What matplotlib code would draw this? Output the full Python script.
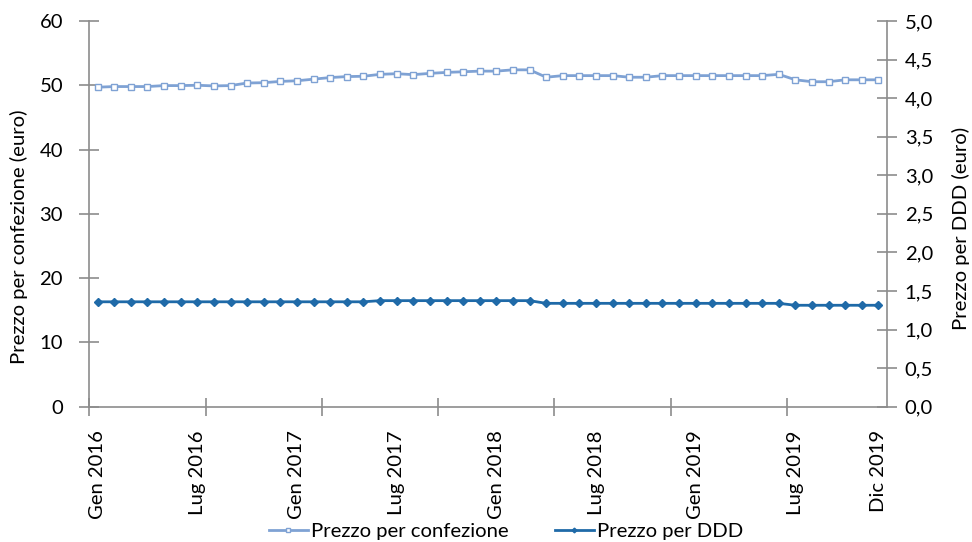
import matplotlib
matplotlib.use("Agg")
import matplotlib.pyplot as plt
from matplotlib.ticker import FixedLocator, NullFormatter

plt.rcParams['font.family'] = ['Lato', 'DejaVu Sans']

# Dati ================================================================
mesi = ['Gen', 'Feb', 'Mar', 'Apr', 'Mag', 'Giu', 'Lug', 'Ago', 'Set', 'Ott', 'Nov', 'Dic']
anni = [2016, 2017, 2018, 2019]
categorie = [f'{m} {a}' for a in anni for m in mesi]

prezzo_confezione = [49.7, 49.8, 49.8, 49.8, 49.95, 49.95, 50.0, 49.9, 49.95, 50.35, 50.4, 50.6,
                     50.7, 50.95, 51.2, 51.35, 51.4, 51.7, 51.8, 51.65, 51.85, 52.0, 52.1, 52.2,
                     52.2, 52.4, 52.4, 51.25, 51.5, 51.5, 51.5, 51.5, 51.25, 51.25, 51.5, 51.5,
                     51.5, 51.5, 51.5, 51.5, 51.5, 51.7, 50.85, 50.55, 50.55, 50.85, 50.85, 50.85]

prezzo_ddd = [1.36, 1.36, 1.36, 1.36, 1.36, 1.36, 1.36, 1.36, 1.36, 1.36, 1.36, 1.36,
              1.36, 1.36, 1.36, 1.36, 1.36, 1.375, 1.375, 1.375, 1.375, 1.375, 1.375, 1.375,
              1.375, 1.375, 1.375, 1.34, 1.34, 1.34, 1.34, 1.34, 1.34, 1.34, 1.34, 1.34,
              1.34, 1.34, 1.34, 1.34, 1.34, 1.34, 1.315, 1.315, 1.315, 1.315, 1.315, 1.315]

etichette_x = ['Gen 2016', 'Lug 2016', 'Gen 2017', 'Lug 2017', 'Gen 2018',
               'Lug 2018', 'Gen 2019', 'Lug 2019', 'Dic 2019']

col_conf = '#7fa2d4'
col_ddd = '#1f6aa8'
col_asse = '#8c8c8c'
fs = 14.6

# Layout ==============================================================
fig = plt.figure(figsize=(9.72, 5.42), dpi=100)
ax = fig.add_axes([0.0919, 0.2496, 0.8204, 0.7117])
ax2 = ax.twinx()

x = list(range(len(categorie)))
l1, = ax.plot(x, prezzo_confezione, color=col_conf, lw=2.0, marker='s', ms=4.5,
              mfc='white', mec=col_conf, mew=1.0, label='Prezzo per confezione')
l2, = ax2.plot(x, prezzo_ddd, color=col_ddd, lw=2.0, marker='D', ms=4.0,
               mfc=col_ddd, mec=col_ddd, label='Prezzo per DDD')

ax.set_xlim(-0.5, len(categorie) - 0.5)
ax.set_ylim(0, 60)
ax2.set_ylim(0, 5)
ax.set_yticks(range(0, 61, 10))
ax2.set_yticks([i * 0.5 for i in range(11)])
ax2.set_yticklabels([f'{i * 0.5:.1f}'.replace('.', ',') for i in range(11)])

# tick marks every 7 categories, labels every 6 (plus the last)
ax.xaxis.set_major_locator(FixedLocator([k - 0.5 for k in range(0, 49, 7)]))
ax.xaxis.set_major_formatter(NullFormatter())
pos_lab = [categorie.index(e) for e in etichette_x]
ax.xaxis.set_minor_locator(FixedLocator(pos_lab))
ax.set_xticklabels(etichette_x, minor=True, rotation=90, fontsize=fs)
ax.tick_params(axis='x', which='minor', length=0, pad=17)
ax.tick_params(axis='x', which='major', direction='inout', length=13, color=col_asse, width=1.2)

for a in (ax, ax2):
    for s in a.spines.values():
        s.set_visible(False)
ax.spines['left'].set_visible(True)
ax.spines['bottom'].set_visible(True)
ax2.spines['right'].set_visible(True)
for s in (ax.spines['left'], ax.spines['bottom'], ax2.spines['right']):
    s.set_color(col_asse)
    s.set_linewidth(1.2)

ax.tick_params(axis='y', direction='inout', length=14, color=col_asse, width=1.2,
               labelsize=fs, pad=12)
ax2.tick_params(axis='y', direction='inout', length=14, color=col_asse, width=1.2,
                labelsize=fs, pad=6)

fig.text(19 / 972, 1 - 237 / 542, 'Prezzo per confezione (euro)', rotation=90,
         ha='center', va='center', fontsize=fs)
fig.text(961 / 972, 1 - 228 / 542, 'Prezzo per DDD (euro)', rotation=90,
         ha='center', va='center', fontsize=fs)

leg = fig.legend([l1, l2], [l1.get_label(), l2.get_label()], loc='center',
                 bbox_to_anchor=(506 / 972, 1 - 531 / 542), ncol=2, frameon=False,
                 fontsize=fs, handlelength=1.9, handletextpad=0.15, columnspacing=2.3,
                 markerscale=0.6)

fig.savefig('out.png', dpi=100)
